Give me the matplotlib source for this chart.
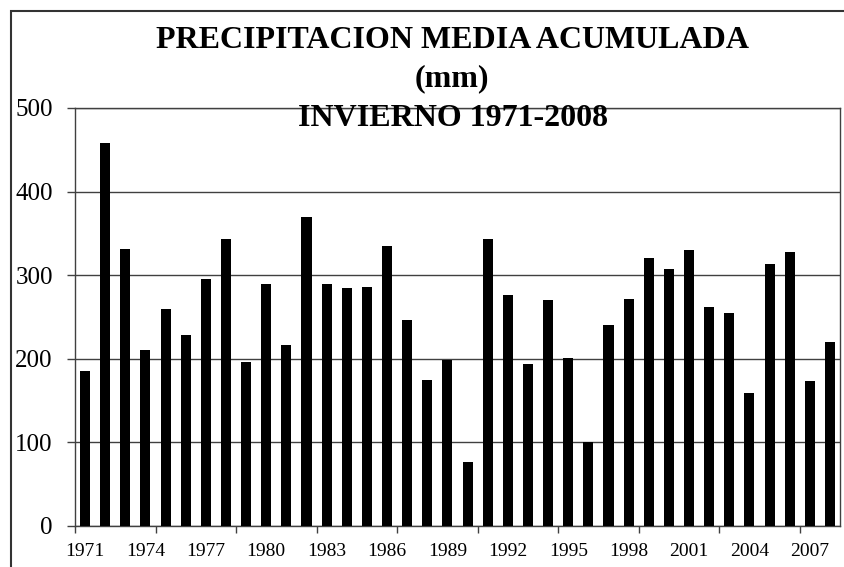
import matplotlib.pyplot as plt
from matplotlib.patches import Rectangle
import numpy as np

# Winter precipitation (mm), one value per year
years = list(range(1971, 2009))
precip = [185, 458, 331, 211, 260, 229, 296, 343, 196, 290,
          216, 370, 290, 285, 286, 335, 246, 175, 198, 76,
          343, 276, 194, 270, 201, 100, 241, 272, 320, 308,
          330, 262, 255, 159, 313, 328, 174, 220]

plt.rcParams['font.family'] = ['Liberation Serif', 'DejaVu Serif']

fig = plt.figure(figsize=(8.44, 5.67), dpi=100)
ax = fig.add_axes([75 / 844, 41 / 567, 765 / 844, 418 / 567])

x = np.arange(len(years))
ax.bar(x, precip, width=0.5, color='black', zorder=3)

ax.set_xlim(-0.5, len(years) - 0.5)
ax.set_ylim(0, 500)
ax.set_yticks(range(0, 501, 100))
ax.yaxis.grid(True, color='#404040', linewidth=1, zorder=1)
ax.tick_params(axis='y', labelsize=18, length=6, width=1, color='#404040', pad=10)

# tick marks every 4 categories, labels every 3 years
ax.set_xticks(np.arange(-0.5, len(years), 4))
ax.set_xticklabels([])
ax.set_xticks(x[::3], minor=True)
ax.set_xticklabels([str(y) for y in years[::3]], minor=True)
ax.tick_params(axis='x', which='major', length=5, width=1, color='#404040')
ax.tick_params(axis='x', which='minor', length=0, labelsize=14, pad=12)

for s in ax.spines.values():
    s.set_color('#404040')
    s.set_linewidth(1)

fig.text(452, 567 - 41, 'PRECIPITACION MEDIA ACUMULADA', transform=None,
         ha='center', va='center', fontsize=23, fontweight='bold')
fig.text(452, 567 - 79, '(mm)', transform=None, ha='center', va='center',
         fontsize=23, fontweight='bold')
fig.text(453, 567 - 118, 'INVIERNO 1971-2008', transform=None, ha='center',
         va='center', fontsize=23, fontweight='bold')

# outer chart border
fig.patches.append(Rectangle((11 / 844, -0.05), 1.0, (567 - 11) / 567 + 0.05,
                             transform=fig.transFigure, fill=False,
                             edgecolor='#333333', linewidth=1.5))

fig.savefig('out.png', dpi=100)
